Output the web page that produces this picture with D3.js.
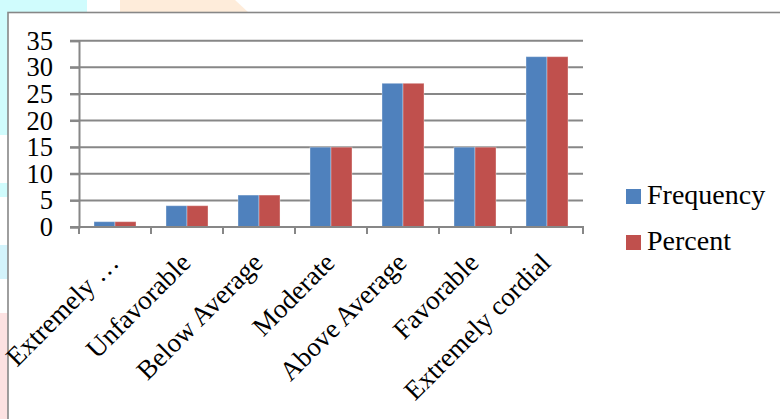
<!DOCTYPE html>
<html>
<head>
<meta charset="utf-8">
<script src="https://cdn.jsdelivr.net/npm/d3@7"></script>
<style>
  body { margin: 0; background: #fff; }
  svg { display: block; font-family: "Liberation Serif", serif; }
</style>
</head>
<body>
<svg width="780" height="419"></svg>
<script>
// **** Data ****
var categories = ["Extremely \u2026", "Unfavorable", "Below Average", "Moderate",
    "Above Average", "Favorable", "Extremely cordial"];
var seriesNames = ["Frequency", "Percent"];
var frequency = [1, 4, 6, 15, 27, 15, 32];
var percent = [1, 4, 6, 15, 27, 15, 32];
var yTicks = [0, 5, 10, 15, 20, 25, 30, 35];

var colorMap = { "Frequency": "#4f81bd", "Percent": "#c0504d" };

var svg = d3.select('svg');

// **** Page background pieces behind the chart ****
svg.append('rect').attr('x', 0).attr('y', 0).attr('width', 87).attr('height', 13).attr('fill', '#d0fcfd');
svg.append('rect').attr('x', 0).attr('y', 0).attr('width', 8).attr('height', 135).attr('fill', '#d0fcfd');
svg.append('rect').attr('x', 0).attr('y', 183).attr('width', 8).attr('height', 14).attr('fill', '#d0fcfd');
svg.append('rect').attr('x', 0).attr('y', 245).attr('width', 8).attr('height', 34).attr('fill', '#d3f3fb');
svg.append('rect').attr('x', 0).attr('y', 313).attr('width', 8).attr('height', 106).attr('fill', '#fde2e2');
svg.append('polygon').attr('points', '120,0 235,0 249,13 120,13').attr('fill', '#feecda');

// chart frame
svg.append('rect')
    .attr('x', 8).attr('y', 12.5)
    .attr('width', 800).attr('height', 430)
    .attr('fill', '#fff')
    .attr('stroke', '#878787')
    .attr('stroke-width', 1.6);

// **** Scales ****
var x0 = d3.scaleBand().domain(categories).range([79, 583]).padding(0);
var x1 = d3.scaleBand().domain(seriesNames).range([0, x0.bandwidth()])
    .paddingInner(0).paddingOuter(0.714);
var y = d3.scaleLinear().domain([0, 35]).range([227, 40.7]);

// gridlines
svg.append('g').attr('class', 'grid')
    .selectAll('line')
    .data(yTicks)
    .enter().append('line')
    .attr('x1', 70).attr('x2', 583)
    .attr('y1', function (d) { return y(d); })
    .attr('y2', function (d) { return y(d); })
    .attr('stroke', '#878787')
    .attr('stroke-width', 2);

// y axis
var yAxis = svg.append('g').attr('class', 'y axis')
    .attr('transform', 'translate(79,0)')
    .call(d3.axisLeft(y).tickValues(yTicks).tickSize(9).tickPadding(17));
yAxis.select('.domain').attr('stroke', '#878787').attr('stroke-width', 2);
yAxis.selectAll('line').attr('stroke', '#878787').attr('stroke-width', 2);
yAxis.selectAll('text')
    .attr('font-family', '"Liberation Serif", serif')
    .attr('font-size', 26.5)
    .attr('fill', '#000');

// **** Bars ****
var groups = svg.append('g').attr('class', 'bars')
    .selectAll('g')
    .data(categories)
    .enter().append('g')
    .attr('transform', function (d) { return 'translate(' + x0(d) + ',0)'; });

groups.selectAll('rect')
    .data(function (d, i) {
        return [
            { key: "Frequency", value: frequency[i] },
            { key: "Percent", value: percent[i] }
        ];
    })
    .enter().append('rect')
    .attr('x', function (d) { return x1(d.key); })
    .attr('y', function (d) { return y(d.value); })
    .attr('width', x1.bandwidth())
    .attr('height', function (d) { return y(0) - y(d.value); })
    .attr('fill', function (d) { return colorMap[d.key]; })
    .attr('stroke', 'rgba(255,255,255,0.35)')
    .attr('stroke-width', 1);

// **** x axis ****
var xAxis = svg.append('g').attr('class', 'x axis');
xAxis.append('line')
    .attr('x1', 79).attr('x2', 584)
    .attr('y1', y(0)).attr('y2', y(0))
    .attr('stroke', '#878787').attr('stroke-width', 2);
var boundaries = categories.map(function (c) { return x0(c); }).concat([x0.range()[1]]);
xAxis.selectAll('line.tick')
    .data(boundaries)
    .enter().append('line')
    .attr('class', 'tick')
    .attr('x1', function (d) { return d; }).attr('x2', function (d) { return d; })
    .attr('y1', y(0)).attr('y2', y(0) + 7)
    .attr('stroke', '#878787').attr('stroke-width', 2);

xAxis.selectAll('text')
    .data(categories)
    .enter().append('text')
    .attr('transform', function (d) {
        return 'translate(' + (x0(d) + x0.bandwidth() / 2 - 9) + ',250) rotate(-45)';
    })
    .attr('text-anchor', 'end')
    .attr('dy', '0.75em')
    .attr('font-size', 27)
    .attr('fill', '#000')
    .text(function (d) { return d; });

// **** Legend ****
var legend = svg.append('g').attr('class', 'legend')
    .selectAll('g')
    .data(seriesNames)
    .enter().append('g')
    .attr('transform', function (d, i) { return 'translate(626,' + (189 + i * 46) + ')'; });

legend.append('rect')
    .attr('width', 15).attr('height', 15)
    .attr('fill', function (d) { return colorMap[d]; });

legend.append('text')
    .attr('x', 21).attr('y', 15)
    .attr('font-size', 28)
    .attr('fill', '#000')
    .text(function (d) { return d; });
</script>
</body>
</html>
